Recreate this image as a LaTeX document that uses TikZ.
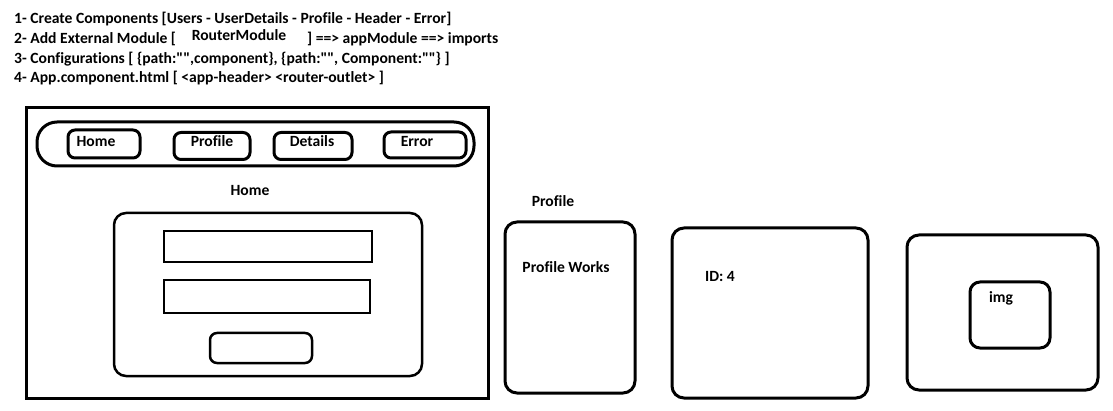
\documentclass[tikz,border=0pt]{standalone}
\usepackage{fontspec}
\newfontfamily\carl[Ligatures=NoCommon]{Carlito}
\begin{document}
\begin{tikzpicture}[x=1pt,y=-1pt,
  txt/.style={font=\carl\fontsize{15.6}{18}\selectfont\bfseries, inner sep=0pt, text height=2.1ex, text depth=0.3ex},
  frame/.style={draw, line width=3pt, inner sep=0pt},
  rbox/.style={draw, line width=3pt, rounded corners=12pt, inner sep=0pt},
  navbtn/.style={draw, line width=3pt, rounded corners=7pt, inner sep=0pt},
  field/.style={draw, line width=2.5pt, inner sep=0pt}]
\useasboundingbox (0,0) rectangle (1113,411);
% instructions
\node[txt, anchor=west] (l1) at (14,20) {1- Create Components [Users - UserDetails - Profile - Header - Error]};
\node[txt, anchor=west] (l2a) at (14,40) {2- Add External Module [};
\node[txt] (l2b) at (239,37) {RouterModule};
\node[txt, anchor=west] (l2c) at (307,40) {] ==> appModule ==> imports};
\node[txt, anchor=west] (l3) at (14,60) {3- Configurations [ \{path:"",component\}, \{path:"", Component:""\} ]};
\node[txt, anchor=west] (l4) at (14,79) {4- App.component.html [ <app-header> <router-outlet> ]};
% main frame
\node[frame, minimum width=462pt, minimum height=290pt] (app) at (257,253) {};
\node[draw, line width=3pt, rounded corners=20pt, minimum width=437pt, minimum height=44pt, inner sep=0pt] (nav) at (255.5,144) {};
\node[navbtn, minimum width=72pt, minimum height=28pt] (bhome) at (104,144) {};
\node[txt] at (96,143) {Home};
\node[navbtn, minimum width=76pt, minimum height=27pt] (bprof) at (212,146) {};
\node[txt] at (212,143) {Profile};
\node[navbtn, minimum width=78pt, minimum height=27pt] (bdet) at (313,146) {};
\node[txt] at (312,143) {Details};
\node[navbtn, minimum width=82pt, minimum height=26pt] (berr) at (425,145) {};
\node[txt] at (417,143) {Error};
\node[txt] (homelbl) at (250,192) {Home};
\node[draw, line width=2.5pt, rounded corners=12pt, minimum width=308pt, minimum height=163pt, inner sep=0pt] (form) at (268,294.5) {};
\node[field, minimum width=208pt, minimum height=31pt] (f1) at (268,246.5) {};
\node[field, minimum width=206pt, minimum height=33pt] (f2) at (267,296.5) {};
\node[navbtn, line width=2.5pt, minimum width=102pt, minimum height=30pt] (sub) at (261,348) {};
% routed views
\node[txt] (proflbl) at (553,203) {Profile};
\node[rbox, minimum width=130pt, minimum height=171pt] (v1) at (570,307.5) {};
\node[txt] (pw) at (566,269) {Profile Works};
\node[rbox, minimum width=196pt, minimum height=170pt] (v2) at (770,313) {};
\node[txt] (id) at (720,278) {ID: 4};
\node[rbox, minimum width=191pt, minimum height=155pt] (v3) at (1002.5,312.5) {};
\node[rbox, rounded corners=10pt, minimum width=80pt, minimum height=66pt] (imgbox) at (1010,315) {};
\node[txt] (img) at (1001,299) {img};
\end{tikzpicture}
\end{document}
